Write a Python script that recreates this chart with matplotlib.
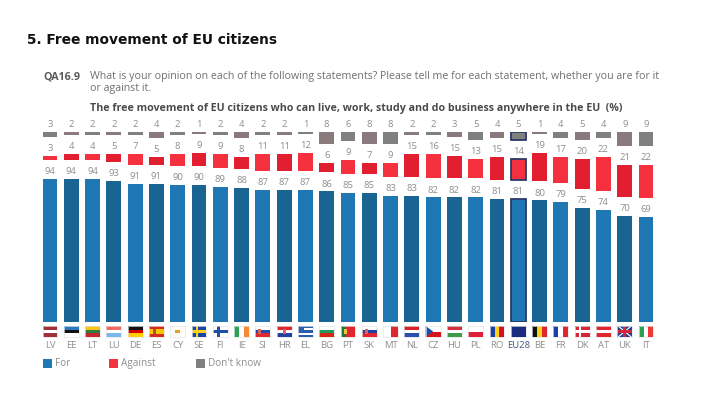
import matplotlib
matplotlib.use("Agg")
import matplotlib.pyplot as plt
from matplotlib.patches import Rectangle, Polygon

W, H = 723, 413
countries = ["LV","EE","LT","LU","DE","ES","CY","SE","FI","IE","SI","HR","EL","BG","PT","SK","MT","NL","CZ","HU","PL","RO","EU28","BE","FR","DK","AT","UK","IT"]
for_vals = [94,94,94,93,91,91,90,90,89,88,87,87,87,86,85,85,83,83,82,82,82,81,81,80,79,75,74,70,69]
against_vals = [3,4,4,5,7,5,8,9,9,8,11,11,12,6,9,7,9,15,16,15,13,15,14,19,17,20,22,21,22]
dontknow_vals = [3,2,2,2,2,4,2,1,2,4,2,2,1,8,6,8,8,2,2,3,5,4,5,1,4,5,4,9,9]
flag_h = {"LV":["#9e3039","#9e3039","#ffffff","#9e3039","#9e3039"],"EE":["#2a7ac0","#111111","#ffffff"],"LT":["#f5c518","#2e7d43","#c1272d"],
          "LU":["#ef6a60","#ffffff","#7ab8ee"],"DE":["#111111","#d40000","#ffce00"],"ES":["#d62b1f","#f7c600","#f7c600","#d62b1f"],
          "SI":["#ffffff","#1f4ea8","#e0262e"],"HR":["#e0262e","#ffffff","#2340a0"],"EL":["#2a5fb0","#ffffff","#2a5fb0","#ffffff","#2a5fb0"],
          "BG":["#ffffff","#1e9b5c","#d62612"],"SK":["#ffffff","#2340a0","#e0262e"],"NL":["#d6202c","#ffffff","#2a4fb0"],"CZ":["#ffffff","#d7141a"],
          "HU":["#d6303a","#ffffff","#3f9b4a"],"PL":["#ffffff","#e0203a"],"AT":["#e0262e","#ffffff","#e0262e"]}
flag_v = {"IE":["#2aa252","#ffffff","#f58a32"],"PT":["#1f7a33","#e0262e","#e0262e"],"MT":["#ffffff","#e0262e"],"RO":["#1f3fa8","#fcd116","#ce1126"],
          "BE":["#111111","#f7d417","#e0262e"],"FR":["#1f3fa8","#ffffff","#e0262e"],"IT":["#2aa252","#ffffff","#ef3b32"]}
flag_plain = {"CY":"#fffdf5","SE":"#1a45a8","FI":"#ffffff","DK":"#d6263a","EU28":"#1c2a80","UK":"#2a3f8f"}
flag_cross = {"SE":"#fcd116","FI":"#1f4ea8","DK":"#ffffff"}

BLUE = ["#1f77b4", "#1a6494"]
RED = ["#f5303f", "#e21f30"]
GREY = ["#808080", "#8a7a7e"]
TXT = "#8f8f8f"
GAP = 12.5
PX = 1.52

plt.rcParams["font.family"] = ["Open Sans", "DejaVu Sans"]
fig = plt.figure(figsize=(W / 100, H / 100), dpi=100)
n = len(countries)
step = 21.29
x0 = 50 - step / 2
x1 = 646 + step / 2
base, top = 322, 132
ax = fig.add_axes([x0 / W, 1 - base / H, (x1 - x0) / W, (base - top) / H])
ax.set_xlim(-0.5, n - 0.5)
ax.set_ylim(0, (base - top) / PX)
ax.axis("off")

xs = list(range(n))
bw = 0.70
bot_red = [f + GAP for f in for_vals]
bot_grey = [(base - top) / PX - d for d in dontknow_vals]
cols = lambda pal: [pal[i % 2] for i in xs]
edge = ["#2b3a67" if c == "EU28" else "none" for c in countries]
lw = [1.3 if c == "EU28" else 0 for c in countries]
ax.bar(xs, for_vals, bw, color=cols(BLUE), edgecolor=edge, linewidth=lw)
ax.bar(xs, against_vals, bw, bottom=bot_red, color=cols(RED), edgecolor=edge, linewidth=lw)
ax.bar(xs, dontknow_vals, bw, bottom=bot_grey, color=cols(GREY), edgecolor=edge, linewidth=lw)

for i in xs:
    for val, y in ((for_vals[i], for_vals[i]), (against_vals[i], bot_red[i] + against_vals[i]), (dontknow_vals[i], bot_grey[i] + dontknow_vals[i])):
        ax.annotate(str(val), (i, y), xytext=(0, 2), textcoords="offset points", ha="center", va="bottom", fontsize=6.8, color=TXT)

def py(p):
    return (base - p) / PX
fw = 0.70
ftop, fbot = py(326), py(337)
clip = dict(clip_on=False)
for i, c in enumerate(countries):
    l = i - fw / 2
    if c in flag_h:
        st = flag_h[c]
        hh = (ftop - fbot) / len(st)
        for k, col in enumerate(st):
            ax.add_patch(Rectangle((l, ftop - (k + 1) * hh), fw, hh, fc=col, ec="none", **clip))
    elif c in flag_v:
        st = flag_v[c]
        ww = fw / len(st)
        for k, col in enumerate(st):
            ax.add_patch(Rectangle((l + k * ww, fbot), ww, ftop - fbot, fc=col, ec="none", **clip))
    else:
        ax.add_patch(Rectangle((l, fbot), fw, ftop - fbot, fc=flag_plain[c], ec="none", **clip))
    if c in flag_cross:
        col = flag_cross[c]
        ax.add_patch(Rectangle((l + fw * 0.28, fbot), fw * 0.17, ftop - fbot, fc=col, ec="none", **clip))
        ax.add_patch(Rectangle((l, (ftop + fbot) / 2 - 1.1), fw, 2.2, fc=col, ec="none", **clip))
    if c == "UK":
        for pts in ([(l, ftop), (l + fw * .12, ftop), (l + fw, fbot), (l + fw * .88, fbot)],
                    [(l, fbot), (l + fw * .12, fbot), (l + fw, ftop), (l + fw * .88, ftop)]):
            ax.add_patch(Polygon(pts, fc="#ffffff", ec="none", **clip))
        ax.add_patch(Rectangle((l + fw * .4, fbot), fw * .2, ftop - fbot, fc="#d6263a", ec="none", **clip))
        ax.add_patch(Rectangle((l, (ftop + fbot) / 2 - 1), fw, 2, fc="#d6263a", ec="none", **clip))
    if c == "CY":
        ax.add_patch(Rectangle((i - 0.13, (ftop + fbot) / 2 - 1), 0.26, 2, fc="#e0a030", ec="none", **clip))
    if c == "ES":
        ax.add_patch(Rectangle((l + fw * .25, (ftop + fbot) / 2 - 1.5), fw * .2, 3, fc="#b5502a", ec="none", **clip))
    if c == "PT":
        ax.add_patch(Rectangle((l + fw * .24, (ftop + fbot) / 2 - 1.5), fw * .2, 3, fc="#e8c840", ec="none", **clip))
    if c in ("SI", "SK", "HR"):
        ax.add_patch(Rectangle((l + fw * (.2 if c != "HR" else .4), (ftop + fbot) / 2 - 1.6), fw * .2, 3.2, fc="#e06060", ec="none", **clip))
    if c == "CZ":
        ax.add_patch(Polygon([(l, ftop), (l, fbot), (l + fw * .5, (ftop + fbot) / 2)], fc="#1f4ea8", ec="none", **clip))
    if c == "EL":
        ax.add_patch(Rectangle((l, (ftop + fbot) / 2), fw * .38, (ftop - fbot) / 2, fc="#2a5fb0", ec="none", **clip))
    ax.add_patch(Rectangle((l, fbot), fw, ftop - fbot, fc="none", ec="#e4e4e4", lw=0.5, **clip))
    ax.text(i, py(345), c, ha="center", va="center", fontsize=6.8, color="#44587f" if c == "EU28" else TXT, **clip)

def T(px, py_, s, **kw):
    fig.text(px / W, 1 - py_ / H, s, **kw)

T(27, 40, "5. Free movement of EU citizens", family="DejaVu Sans", fontsize=9.9, fontweight="bold", color="#111111", va="center")
T(43, 77, "QA16.9", fontsize=7.7, fontweight="bold", color="#595959", va="center")
T(90, 77, "What is your opinion on each of the following statements? Please tell me for each statement, whether you are for it", fontsize=7.7, color="#707070", va="center")
T(90, 89, "or against it.", fontsize=7.7, color="#707070", va="center")
T(90, 108, "The free movement of EU citizens who can live, work, study and do business anywhere in the EU  (%)", fontsize=7.7, fontweight="bold", color="#4a4a4a", va="center")

legend_items = ["For", "Against", "Don't know"]
legend_x = [43, 109, 196]
for x, lab, pal in zip(legend_x, legend_items, [BLUE, RED, GREY]):
    fig.patches.append(Rectangle((x / W, 1 - 368 / H), 9 / W, 9 / H, transform=fig.transFigure, fc=pal[0], ec="none"))
    T(x + 12, 363.5, lab, fontsize=7.2, color=TXT, va="center")

fig.savefig("out.png", dpi=100, facecolor="white")
